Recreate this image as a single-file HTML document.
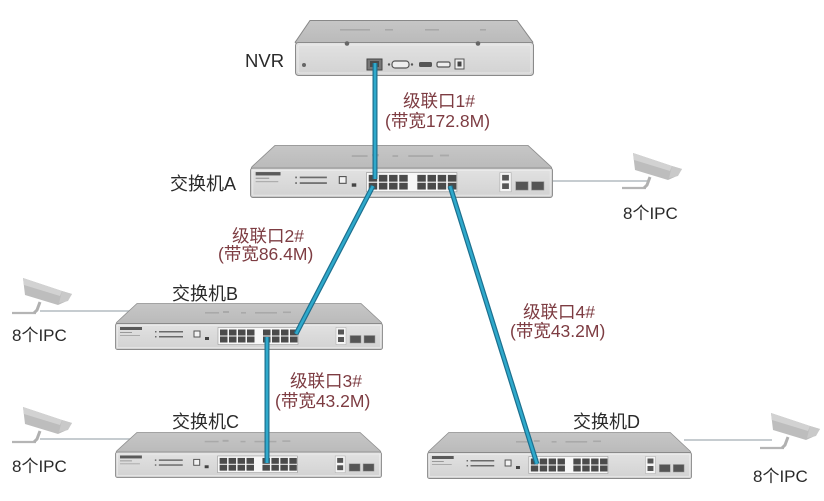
<!DOCTYPE html>
<html>
<head>
<meta charset="utf-8">
<style>
html,body{margin:0;padding:0;background:#fff;}
svg{display:block;}
text{font-family:"Liberation Sans","Noto Sans CJK SC",sans-serif;}
.lbl{fill:#2a2a2a;font-size:17px;}
.sw{fill:#2a2a2a;font-size:18px;}
.red{fill:#7d3c42;font-size:17.5px;}
</style>
</head>
<body>
<svg width="824" height="501" viewBox="0 0 824 501" xmlns="http://www.w3.org/2000/svg">
<defs>
  <linearGradient id="topg" x1="0" y1="0" x2="0" y2="1">
    <stop offset="0" stop-color="#c6c6c6"/>
    <stop offset="1" stop-color="#bababa"/>
  </linearGradient>
  <linearGradient id="frg" x1="0" y1="0" x2="0" y2="1">
    <stop offset="0" stop-color="#e2e2e2"/>
    <stop offset="1" stop-color="#d2d2d2"/>
  </linearGradient>
  <symbol id="sw" viewBox="0 0 268 47" preserveAspectRatio="none">
    <path d="M22,0.5 H246 L266,19 Q268,21 265,21 H3 Q0,21 2,19 Z" fill="url(#topg)" stroke="#8e8e8e" stroke-width="0.8"/>
    <g fill="#a9a9a9">
      <rect x="90" y="9" width="14" height="1.6"/>
      <rect x="108" y="8" width="6" height="2"/>
      <rect x="126" y="9" width="5" height="1.6"/>
      <rect x="140" y="9" width="22" height="1.6"/>
      <rect x="168" y="8.5" width="8" height="1.6"/>
    </g>
    <rect x="0.5" y="20.5" width="267" height="26" rx="2" fill="url(#frg)" stroke="#8a8a8a" stroke-width="0.9"/>
    <rect x="2.5" y="22.5" width="263" height="22" fill="none" stroke="#efefef" stroke-width="0.6"/>
    <rect x="5" y="24" width="22" height="3" fill="#5a5a5a"/>
    <rect x="5" y="29" width="12" height="1" fill="#999"/>
    <rect x="5" y="32" width="20" height="1" fill="#aaa"/>
    <g fill="#6a6a6a">
      <rect x="40" y="28" width="1.5" height="1.5"/><rect x="44" y="28" width="24" height="1.5"/>
      <rect x="40" y="33" width="1.5" height="1.5"/><rect x="44" y="33" width="24" height="1.5"/>
    </g>
    <rect x="79" y="28" width="6" height="6" fill="#f2f2f2" stroke="#555" stroke-width="1"/>
    <rect x="90" y="34" width="4" height="3" fill="#444"/>
    <rect x="103" y="24.5" width="80" height="17" fill="#f7f7f7" stroke="#9a9a9a" stroke-width="0.6"/>
    <g fill="#4b4b4b">
      <rect x="105" y="26.5" width="7.5" height="6"/><rect x="114" y="26.5" width="7.5" height="6"/><rect x="123" y="26.5" width="7.5" height="6"/><rect x="132" y="26.5" width="7.5" height="6"/>
      <rect x="148" y="26.5" width="7.5" height="6"/><rect x="157" y="26.5" width="7.5" height="6"/><rect x="166" y="26.5" width="7.5" height="6"/><rect x="175" y="26.5" width="7.5" height="6"/>
      <rect x="105" y="33.5" width="7.5" height="6"/><rect x="114" y="33.5" width="7.5" height="6"/><rect x="123" y="33.5" width="7.5" height="6"/><rect x="132" y="33.5" width="7.5" height="6"/>
      <rect x="148" y="33.5" width="7.5" height="6"/><rect x="157" y="33.5" width="7.5" height="6"/><rect x="166" y="33.5" width="7.5" height="6"/><rect x="175" y="33.5" width="7.5" height="6"/>
    </g>
    <rect x="221" y="24.5" width="10" height="17" fill="#f4f4f4" stroke="#aaa" stroke-width="0.5"/>
    <rect x="223" y="26.5" width="6" height="5" fill="#555"/>
    <rect x="223" y="34" width="6" height="5" fill="#555"/>
    <rect x="235" y="32.5" width="11" height="7.5" fill="#555" stroke="#999" stroke-width="0.5"/>
    <rect x="249" y="32.5" width="11" height="7.5" fill="#555" stroke="#999" stroke-width="0.5"/>
  </symbol>
  <g id="cam">
    <path d="M0,0 H24" stroke="#b5b5b5" stroke-width="2.2" fill="none"/>
    <path d="M28,-11 L25,-3 L22,0" stroke="#b0b0b0" stroke-width="3" fill="none"/>
    <polygon points="11,-35 50,-22 60,-19 55,-12 46,-8 13,-18" fill="#bdbdbd"/>
    <polygon points="11,-35 50,-22 48,-17 12,-28" fill="#d2d2d2"/>
    <polygon points="50,-22 60,-19 56,-12 47,-10" fill="#c9c9c9"/>
  </g>
</defs>

<!-- NVR -->
<path d="M310,20.5 H517 L532,41 Q534,43 531,43 H297 Q294,43 296,41 Z" fill="url(#topg)" stroke="#888" stroke-width="1"/>
<g fill="#a8a8a8">
  <rect x="340" y="29" width="30" height="1.6"/><rect x="385" y="29" width="8" height="1.6"/><rect x="425" y="29" width="14" height="1.6"/><rect x="480" y="29" width="6" height="1.6"/>
</g>
<rect x="295.5" y="42.5" width="238" height="33" rx="3" fill="url(#frg)" stroke="#8a8a8a" stroke-width="1"/>
<rect x="298" y="45" width="233" height="28" rx="2" fill="none" stroke="#eeeeee" stroke-width="0.8"/>
<circle cx="347" cy="43.5" r="2.3" fill="#666"/>
<circle cx="478" cy="43.5" r="2.3" fill="#666"/>
<circle cx="304" cy="65" r="2" fill="#666"/>
<rect x="367" y="59" width="15" height="11" fill="#777" stroke="#444" stroke-width="1"/>
<rect x="370" y="61" width="9" height="6" fill="#4a4a4a"/>
<rect x="392" y="61" width="17" height="7" rx="3" fill="#eee" stroke="#555" stroke-width="1.2"/>
<circle cx="389" cy="64.5" r="1.2" fill="#555"/><circle cx="412" cy="64.5" r="1.2" fill="#555"/>
<rect x="419" y="62" width="13" height="5" rx="1.5" fill="#555"/>
<rect x="437" y="62" width="13" height="5" rx="1.5" fill="#eee" stroke="#555" stroke-width="1.2"/>
<rect x="455" y="59" width="9" height="10" fill="#eee" stroke="#555" stroke-width="1"/>
<rect x="457.5" y="61.5" width="4" height="5" fill="#444"/>
<text class="lbl" x="245" y="67" style="font-size:18.5px">NVR</text>

<!-- camera connector lines -->
<g stroke="#b3bcc0" stroke-width="1.6" fill="none">
  <path d="M553,181 H648"/>
  <path d="M40,311 H134"/>
  <path d="M40,439 H133"/>
  <path d="M684,440 H772"/>
</g>

<!-- switches -->
<use href="#sw" x="250" y="145" width="303" height="53"/>
<use href="#sw" x="115" y="303" width="268" height="47"/>
<use href="#sw" x="115" y="432" width="267" height="46"/>
<use href="#sw" x="427" y="432" width="265" height="47"/>

<!-- cameras -->
<use href="#cam" x="622" y="188"/>
<use href="#cam" x="12" y="313"/>
<use href="#cam" x="12" y="442"/>
<use href="#cam" x="760" y="448"/>

<!-- blue cascade cables -->
<g stroke-linecap="butt" fill="none">
  <g stroke="#1c6f8e" stroke-width="5">
    <path d="M375,63 V179"/>
    <path d="M373,186 L296,334"/>
    <path d="M267,337 V463"/>
    <path d="M450,186 L537,464"/>
  </g>
  <g stroke="#2fa9cb" stroke-width="2.6">
    <path d="M375,63 V179"/>
    <path d="M373,186 L296,334"/>
    <path d="M267,337 V463"/>
    <path d="M450,186 L537,464"/>
  </g>
</g>

<!-- device labels -->
<text class="sw" x="170" y="190">交换机A</text>
<text class="sw" x="172" y="300">交换机B</text>
<text class="sw" x="172" y="428">交换机C</text>
<text class="sw" x="573" y="428">交换机D</text>

<text class="lbl" x="623" y="219">8个IPC</text>
<text class="lbl" x="12" y="341">8个IPC</text>
<text class="lbl" x="12" y="472">8个IPC</text>
<text class="lbl" x="753" y="482">8个IPC</text>

<!-- cascade labels -->
<text class="red" x="403" y="107">级联口1#</text>
<text class="red" x="385" y="127">(带宽172.8M)</text>
<text class="red" x="232" y="242">级联口2#</text>
<text class="red" x="218" y="260">(带宽86.4M)</text>
<text class="red" x="290" y="387">级联口3#</text>
<text class="red" x="275" y="407">(带宽43.2M)</text>
<text class="red" x="523" y="318">级联口4#</text>
<text class="red" x="510" y="337">(带宽43.2M)</text>
</svg>
</body>
</html>
